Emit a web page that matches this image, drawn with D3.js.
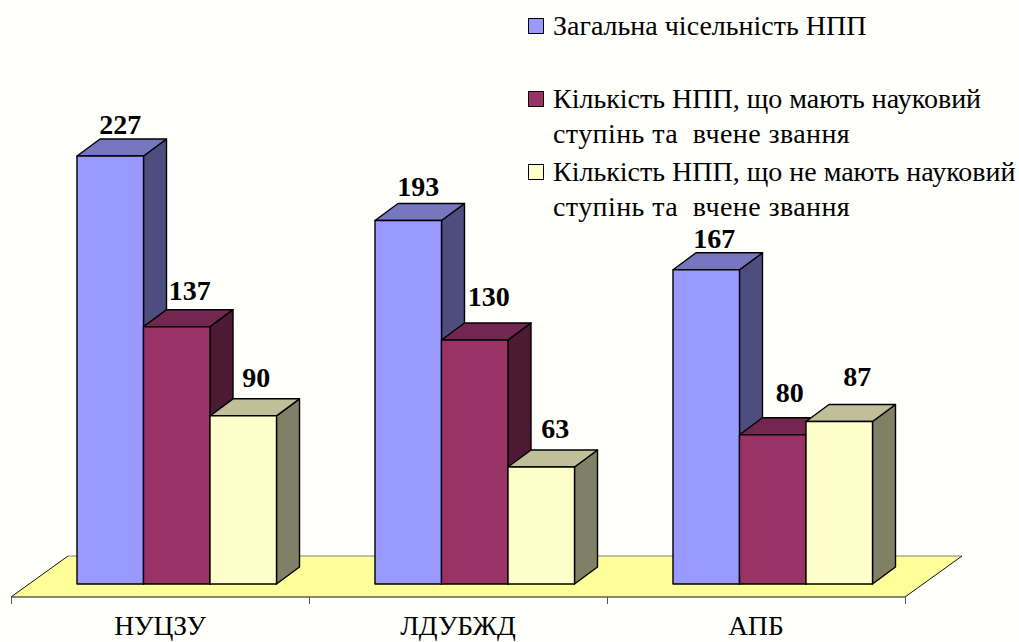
<!DOCTYPE html>
<html lang="uk"><head><meta charset="utf-8">
<script src="https://cdn.jsdelivr.net/npm/d3@7"></script>
<style>html,body{margin:0;padding:0;background:#fffffb}svg{display:block}text{font-family:"Liberation Serif",serif;fill:#000}</style>
</head><body><svg id="c" width="1019" height="642"></svg>
<script>
const categories = ["НУЦЗУ", "ЛДУБЖД", "АПБ"];
const seriesNames = ["Загальна чісельність НПП", "Кількість НПП, що мають науковий", "Кількість НПП, що не мають науковий"];
const legendSecondLines = [null, "ступінь та  вчене звання", "ступінь та  вчене звання"];
const totalStaff = [227, 193, 167];
const withDegree = [137, 130, 80];
const withoutDegree = [90, 63, 87];
const seriesValues = [totalStaff, withDegree, withoutDegree];
const frontColors = ["#9999ff", "#993366", "#ffffcc"];
const topColors = ["#7777bf", "#732650", "#bfbf99"];
const sideColors = ["#4d4d80", "#4d1a33", "#808066"];

const svg = d3.select("#c");
const depthX = 23, depthY = 17;
const baseY = 584, floorFront = 597, floorBack = 556, floorLeft = 11, floorRight = 905;
const x0 = d3.scaleBand().domain(categories).range([floorLeft, floorRight]);
const x1 = d3.scaleBand().domain(d3.range(3)).range([66, 265.5]);
const y = d3.scaleLinear().domain([0, 227]).range([586.5, 156]);
const slant = 57;

// floor
svg.append("path").attr("fill", "#ffff99").attr("stroke", "none")
  .attr("d", d3.line()([[floorLeft, floorFront], [floorLeft + slant, floorBack], [floorRight + slant, floorBack], [floorRight, floorFront]]) + "Z");
svg.append("path").attr("fill", "none").attr("stroke", "#808080")
  .attr("d", d3.line()([[floorLeft + slant, floorBack], [floorRight + slant, floorBack]]));
svg.append("path").attr("fill", "none").attr("stroke", "#111")
  .attr("d", d3.line()([[floorLeft + slant, floorBack], [floorLeft, floorFront], [floorRight, floorFront], [floorRight + slant, floorBack]]));

// category axis
const axis = d3.axisBottom(x0).tickSize(0).tickPadding(18.5);
const ag = svg.append("g").attr("transform", `translate(0,${floorFront})`).call(axis);
ag.select(".domain").remove();
ag.selectAll("text").attr("font-size", 27.5).attr("font-family", "Liberation Serif").attr("fill", "#000").attr("dy", "0.71em");
svg.append("g").selectAll("line").data([...categories.map(c => x0(c)), floorRight]).join("line")
  .attr("x1", d => d + .5).attr("x2", d => d + .5).attr("y1", floorFront).attr("y2", floorFront + 7)
  .attr("stroke", "#555");

// bars
const labelNudge = [
  [[10, 5], [13, 10], [13, 11.5]],
  [[10, 7], [14, 17], [14, 12]],
  [[8, 5], [17, 15.5], [18, 18.5]]
];
const labels = [];
categories.forEach((c, ci) => {
  seriesValues.forEach((vals, si) => {
    const v = vals[ci];
    const l = x0(c) + x1(si), r = l + x1.bandwidth(), t = y(v), b = baseY;
    const g = svg.append("g").attr("stroke", "#000").attr("stroke-width", 1.4).attr("stroke-linejoin", "round");
    g.append("path").attr("fill", sideColors[si])
      .attr("d", d3.line()([[r, t], [r + depthX, t - depthY], [r + depthX, b - depthY], [r, b]]) + "Z");
    g.append("path").attr("fill", topColors[si])
      .attr("d", d3.line()([[l, t], [l + depthX, t - depthY], [r + depthX, t - depthY], [r, t]]) + "Z");
    g.append("path").attr("fill", frontColors[si])
      .attr("d", d3.line()([[l, t], [r, t], [r, b], [l, b]]) + "Z");
    labels.push({v, x: (l + r) / 2 + labelNudge[ci][si][0], y: t - depthY - labelNudge[ci][si][1]});
  });
});
svg.append("g").selectAll("text").data(labels).join("text")
  .attr("x", d => d.x).attr("y", d => d.y).attr("text-anchor", "middle")
  .attr("font-size", 28).attr("font-weight", "bold").text(d => d.v);

// legend
const legendY = [35, 108, 181];
seriesNames.forEach((n, i) => {
  svg.append("rect").attr("x", 528.5).attr("y", legendY[i] - 16.5).attr("width", 15).attr("height", 15)
    .attr("fill", frontColors[i]).attr("stroke", "#000").attr("stroke-width", 1);
  svg.append("text").attr("x", 553).attr("y", legendY[i]).attr("font-size", 28).text(n);
  if (legendSecondLines[i]) svg.append("text").attr("x", 553).attr("y", legendY[i] + 35)
    .attr("font-size", 28).attr("letter-spacing", 0.42).style("white-space", "pre").text(legendSecondLines[i]);
});
</script></body></html>
